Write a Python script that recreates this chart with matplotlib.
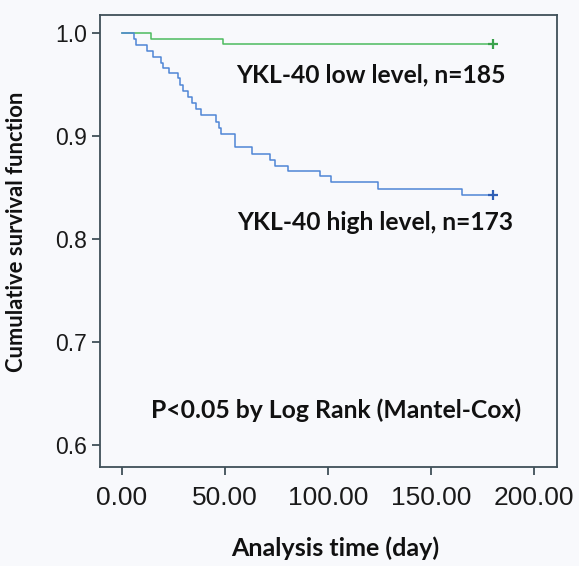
import numpy as np
import matplotlib.pyplot as plt

# survival curves (Kaplan-Meier staircases)
low_time = [0, 14, 49, 180]
low_surv = [1.0, 0.9946, 0.9892, 0.9892]

high_time = [0, 6, 7, 12, 15, 19, 20, 23, 27, 28, 29.5, 32, 34, 36, 38.5,
             45.5, 47, 48, 55, 63, 72, 74.5, 80.5, 96, 101.5, 124, 165, 180]
high_surv = [1.0, 0.994, 0.988, 0.983, 0.977, 0.971, 0.966, 0.961, 0.956, 0.950,
             0.944, 0.938, 0.932, 0.926, 0.920, 0.914, 0.908, 0.902, 0.889,
             0.883, 0.877, 0.871, 0.866, 0.861, 0.855, 0.849, 0.843, 0.843]

x_ticks = [0, 50, 100, 150, 200]
y_ticks = [0.6, 0.7, 0.8, 0.9, 1.0]

bg = '#f8f9fc'
frame = '#3f5059'
bold_font = 'Lato'

fig = plt.figure(figsize=(5.79, 5.66), dpi=100, facecolor=bg)
ax = fig.add_axes([0.172, 0.175, 0.79, 0.799])
ax.set_facecolor(bg)

ax.step(low_time, low_surv, where='post', color='#4dbb5f', lw=1.1)
ax.plot(low_time[-1], low_surv[-1], marker='+', ms=7, mew=1.6, color='#3aa24c')
ax.step(high_time, high_surv, where='post', color='#4f86d6', lw=1.1)
ax.plot(high_time[-1], high_surv[-1], marker='+', ms=7, mew=1.6, color='#2f5fb5')

ax.set_xlim(-10.8, 211)
ax.set_ylim(0.5786, 1.0178)
ax.set_xticks(x_ticks)
ax.set_xticklabels(['%.2f' % v for v in x_ticks])
ax.set_yticks(y_ticks)
ax.set_yticklabels(['%.1f' % v for v in y_ticks])

for s in ax.spines.values():
    s.set_color(frame)
    s.set_linewidth(1.3)
ax.tick_params(axis='both', direction='out', color=frame, width=1.3, length=6,
               labelcolor='#1a1a1a')
ax.tick_params(axis='x', labelsize=19, pad=8)
ax.tick_params(axis='y', labelsize=16.5, pad=3)
for lab in ax.get_xticklabels() + ax.get_yticklabels():
    lab.set_family('Liberation Sans')

ax.text(55.4, 0.9595, 'YKL-40 low level, n=185', fontsize=17.7, fontweight='bold',
        family=bold_font, va='center', ha='left', color='#111111')
ax.text(56, 0.816, 'YKL-40 high level, n=173', fontsize=17.7, fontweight='bold',
        family=bold_font, va='center', ha='left', color='#111111')
ax.text(104, 0.634, 'P<0.05 by Log Rank (Mantel-Cox)', fontsize=17.8,
        fontweight='bold', family=bold_font, va='center', ha='center',
        color='#111111')

ax.set_ylabel('Cumulative survival function', fontsize=15.8, fontweight='bold',
              family=bold_font, color='#111111')
ax.yaxis.set_label_coords(-0.158, 0.52)
ax.set_xlabel('Analysis time (day)', fontsize=18, fontweight='bold',
              family=bold_font, color='#111111', va='center')
ax.xaxis.set_label_coords(0.515, -0.179)

plt.savefig('out.png', dpi=100, facecolor=bg)
